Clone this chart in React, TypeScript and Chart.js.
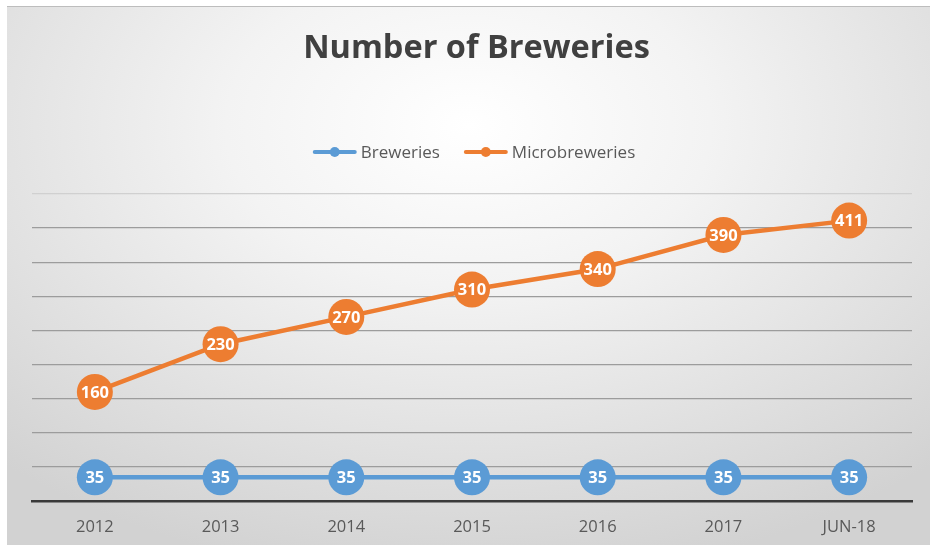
import React, { useEffect, useRef } from "react";
import { Chart, registerables } from "chart.js";

Chart.register(...registerables);

const categories = ["2012", "2013", "2014", "2015", "2016", "2017", "JUN-18"];
const breweries = [35, 35, 35, 35, 35, 35, 35];
const microbreweries = [160, 230, 270, 310, 340, 390, 411];
const seriesNames = ["Breweries", "Microbreweries"];
const seriesColors = ["#5B9BD5", "#ED7D31"];
const titleText = "Number of Breweries";
const FONT = "'Open Sans', Lato, sans-serif";

const customLegend = {
  id: "customLegend",
  afterDraw(chart: any) {
    const ctx = chart.ctx;
    const area = chart.chartArea;
    const y = 145;
    const markerW = 44;
    const gapText = 4;
    const gapItem = 24;
    ctx.save();
    ctx.font = `17px ${FONT}`;
    const widths = seriesNames.map((n) => ctx.measureText(n).width);
    let total = 0;
    widths.forEach((w, i) => {
      total += markerW + gapText + w + (i < widths.length - 1 ? gapItem : 0);
    });
    let x = (area.left + area.right) / 2 - total / 2 + 2;
    seriesNames.forEach((name, i) => {
      const color = seriesColors[i];
      ctx.strokeStyle = color;
      ctx.lineWidth = 4;
      ctx.lineCap = "round";
      ctx.beginPath();
      ctx.moveTo(x + 2, y);
      ctx.lineTo(x + markerW - 2, y);
      ctx.stroke();
      ctx.fillStyle = color;
      ctx.beginPath();
      ctx.arc(x + markerW / 2, y, 5, 0, Math.PI * 2);
      ctx.fill();
      ctx.fillStyle = "#595959";
      ctx.textAlign = "left";
      ctx.textBaseline = "middle";
      ctx.fillText(name, x + markerW + gapText, y + 1);
      x += markerW + gapText + widths[i] + gapItem;
    });
    ctx.restore();
  },
};

const valueLabels = {
  id: "valueLabels",
  afterDatasetsDraw(chart: any) {
    const ctx = chart.ctx;
    ctx.save();
    ctx.font = `bold 16.5px ${FONT}`;
    ctx.fillStyle = "#ffffff";
    ctx.textAlign = "center";
    ctx.textBaseline = "middle";
    chart.data.datasets.forEach((ds: any, i: number) => {
      const meta = chart.getDatasetMeta(i);
      meta.data.forEach((pt: any, j: number) => {
        ctx.fillText(String(ds.data[j]), pt.x, pt.y + 1);
      });
    });
    ctx.restore();
  },
};

export default function App() {
  const ref = useRef<HTMLCanvasElement>(null);
  useEffect(() => {
    const chart = new Chart(ref.current!, {
      type: "line",
      data: {
        labels: categories,
        datasets: [
          {
            label: seriesNames[0],
            data: breweries,
            borderColor: seriesColors[0],
            backgroundColor: seriesColors[0],
            pointBackgroundColor: seriesColors[0],
            pointBorderColor: seriesColors[0],
            borderWidth: 4.5,
            pointRadius: 18,
            pointBorderWidth: 0,
          },
          {
            label: seriesNames[1],
            data: microbreweries,
            borderColor: seriesColors[1],
            backgroundColor: seriesColors[1],
            pointBackgroundColor: seriesColors[1],
            pointBorderColor: seriesColors[1],
            borderWidth: 4.5,
            pointRadius: 18,
            pointBorderWidth: 0,
          },
        ],
      },
      options: {
        responsive: false,
        animation: false,
        layout: { padding: { left: 25, right: 9, top: 0, bottom: -8 } },
        plugins: {
          title: {
            display: true,
            text: titleText,
            color: "#404040",
            font: { family: FONT, size: 32.5, weight: "bold" },
            padding: { top: 22.5, bottom: 125.5 },
          },
          legend: { display: false },
          tooltip: { enabled: false },
        },
        scales: {
          x: {
            offset: true,
            grid: { display: false, drawTicks: false },
            border: { display: true, color: "#3a3a3a", width: 2.5 },
            ticks: { color: "#595959", font: { family: FONT, size: 16.5 }, padding: 16 },
          },
          y: {
            min: 0,
            max: 450,
            ticks: { display: false, stepSize: 50 },
            border: { display: false },
            grid: {
              drawTicks: false,
              lineWidth: 1.3,
              color: (ctx: any) => {
                const v = ctx.tick ? ctx.tick.value : 0;
                if (v === 0) return "rgba(0,0,0,0)";
                if (v === 450) return "#d0d0d0";
                return "#9c9c9c";
              },
            },
          },
        },
      },
      plugins: [valueLabels, customLegend],
    });
    return () => chart.destroy();
  }, []);

  return (
    <div style={{ position: "fixed", left: 0, top: 0, width: 930, height: 545, background: "#ffffff" }}>
      <div
        style={{
          position: "absolute",
          left: 7,
          top: 6,
          width: 923,
          height: 539,
          background: "radial-gradient(ellipse 75% 85% at 50% 22%, #ffffff 0%, #f3f3f3 35%, #d2d2d2 100%)",
          borderTop: "1px solid #bdbdbd",
          boxSizing: "border-box",
        }}
      >
        <canvas ref={ref} width={923} height={538} style={{ display: "block" }} />
      </div>
    </div>
  );
}
